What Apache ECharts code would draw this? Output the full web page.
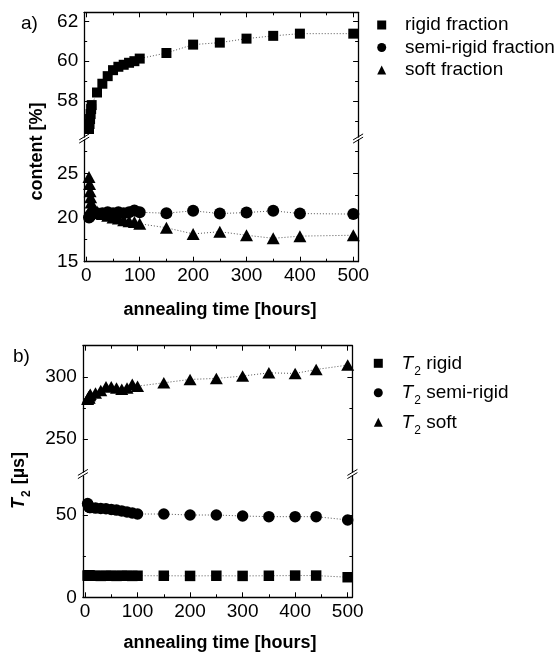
<!DOCTYPE html>
<html><head><meta charset="utf-8">
<script src="https://cdn.jsdelivr.net/npm/echarts@6/dist/echarts.min.js"></script>
<style>html,body{margin:0;padding:0;background:#fff}#c{width:557px;height:654px}</style>
</head><body><div id="c"></div>
<script>
// ---------- data ----------
const timeA = [5,6,7,8,9,10,20,30,40,50,60,70,80,90,100,150,200,250,300,350,400,500];
const rigidFraction = [56.6,56.85,57.1,57.35,57.6,57.8,58.43,58.87,59.25,59.55,59.72,59.82,59.92,60.0,60.13,60.41,60.83,60.93,61.13,61.27,61.38,61.38];
const semiRigidFraction = [20.0,20.1,20.2,20.3,20.3,20.4,20.5,20.5,20.6,20.5,20.6,20.5,20.6,20.8,20.6,20.5,20.77,20.46,20.57,20.77,20.46,20.4];
const softFraction = [24.6,23.8,23.0,22.3,21.7,21.2,20.7,20.4,20.2,20.0,19.9,19.7,19.6,19.5,19.3,18.85,18.15,18.4,18.0,17.65,17.9,18.0];

const timeB = [5,6,7,8,9,10,20,30,40,50,60,70,80,90,100,150,200,250,300,350,400,440,500];
const t2Rigid = [13.2,13.1,13.1,13.2,13.1,13.1,13.1,13.0,13.1,13.1,13.0,13.1,13.1,13.0,13.1,13.1,13.0,13.1,13.0,13.1,13.2,13.2,12.2];
const t2SemiRigid = [57.0,56.0,55.2,54.8,54.6,54.5,54.2,54.0,53.8,53.4,53.0,52.5,51.8,51.2,50.6,50.6,50.0,50.0,49.4,49.0,49.0,49.0,47.0];
const t2Soft = [282,283,284,283,285,286,287,289,292,292,291,290,291,294,292.5,295.2,297.9,298.7,300.6,303.2,302.7,305.9,309.4];

const xTicks = [0,100,200,300,400,500];
const xMinorTicks = [50,150,250,350,450];
const yTicksAUpper = [58,60,62], yMinorAUpper = [57,59,61];
const yTicksALower = [15,20,25], yMinorALower = [17.5,22.5,27.5];
const yTicksBUpper = [250,300], yMinorBUpper = [275];
const yTicksBLower = [0,50], yMinorBLower = [25];

const legendA = ['rigid fraction','semi-rigid fraction','soft fraction'];
const legendB = ['T2 rigid','T2 semi-rigid','T2 soft'];

// ---------- helpers ----------
const FONT = '"Liberation Sans", Arial, sans-serif';
const AX = '#000';
const pairs = (xs, ys) => xs.map((x, i) => [x, ys[i]]);

function axisPair(kind, grid, pos, labels, min, max, major, minor) {
  const base = {type:'value', gridIndex:grid, position:pos, min:min, max:max, splitLine:{show:false}, scale:true};
  return [
    Object.assign({}, base, {
      axisLine:{show:true, onZero:false, lineStyle:{color:AX, width:1.3}},
      axisTick:{show:true, inside:true, length:5, customValues:major, lineStyle:{color:AX, width:1}},
      axisLabel:{show:labels, customValues:major, margin:kind==='x'?5:6, color:'#000', fontSize:19, fontFamily:FONT},
      minorTick:{show:false}
    }),
    Object.assign({}, base, {
      axisLine:{show:false, onZero:false},
      axisTick:{show:true, inside:true, length:3, customValues:minor, lineStyle:{color:AX, width:1}},
      axisLabel:{show:false},
      minorTick:{show:false}
    })
  ];
}

// grid geometry
const gA = {left:84.2, width:273.9};
const gB = {left:82.9, width:269.5};
const grids = [
  {left:gA.left, width:gA.width, top:12.3, height:124.7},
  {left:gA.left, width:gA.width, top:140, height:121.7},
  {left:gB.left, width:gB.width, top:345.7, height:126.3},
  {left:gB.left, width:gB.width, top:476, height:121.3}
].map(g => Object.assign(g, {containLabel:false, outerBoundsMode:'none'}));

const xRange = [-4, 509];
const xAxis = [].concat(
  axisPair('x', 0, 'top', false, xRange[0], xRange[1], xTicks, xMinorTicks),
  axisPair('x', 1, 'bottom', true, xRange[0], xRange[1], xTicks, xMinorTicks),
  axisPair('x', 2, 'top', false, xRange[0], xRange[1], xTicks, xMinorTicks),
  axisPair('x', 3, 'bottom', true, xRange[0], xRange[1], xTicks, xMinorTicks)
);
const yDefs = [
  [0, 56.2, 62.45, yTicksAUpper, yMinorAUpper],
  [1, 15, 28.8, yTicksALower, yMinorALower],
  [2, 223.5, 325, yTicksBUpper, yMinorBUpper],
  [3, 0, 73.7, yTicksBLower, yMinorBLower]
];
let yAxis = [];
yDefs.forEach(d => {
  yAxis = yAxis.concat(
    axisPair('y', d[0], 'left', true, d[1], d[2], d[3], d[4]),
    axisPair('y', d[0], 'right', false, d[1], d[2], d[3], d[4])
  );
});

const lineStyle = {color:'#555', width:1, type:[1,2]};
function ser(name, xi, yi, data, symbol, size) {
  return {type:'line', name:name, xAxisIndex:xi, yAxisIndex:yi, data:data,
    symbol:symbol, symbolSize:size, showSymbol:true, showAllSymbol:true,
    itemStyle:{color:'#000'}, lineStyle:lineStyle, emphasis:{disabled:true}, z:3, clip:false};
}
const series = [
  ser(legendA[0], 0, 0, pairs(timeA, rigidFraction), 'rect', 10),
  ser(legendA[1], 2, 4, pairs(timeA, semiRigidFraction), 'circle', 12),
  ser(legendA[2], 2, 4, pairs(timeA, softFraction), 'triangle', [13,12]),
  ser(legendB[0], 6, 12, pairs(timeB, t2Rigid), 'rect', 10.5),
  ser(legendB[1], 6, 12, pairs(timeB, t2SemiRigid), 'circle', 11.5),
  ser(legendB[2], 4, 8, pairs(timeB, t2Soft), 'triangle', [13,11.5])
];

const icons = ['rect','circle','triangle'];
const legend = [
  {data: legendA.map((n,i)=>({name:n, icon:icons[i]})), orient:'vertical', left:372.2, top:10.5,
   itemWidth:9, itemHeight:9, itemGap:3.5, selectedMode:false,
   textStyle:{fontSize:19, fontFamily:FONT, color:'#000', lineHeight:19, padding:[0,0,0,13.8]}},
  {data: legendB.map((n,i)=>({name:n, icon:icons[i]})), orient:'vertical', left:368.8, top:344.3,
   itemWidth:9, itemHeight:9, itemGap:1.5, selectedMode:false,
   formatter: n => '{i|T}{s|2}{n|' + n.slice(2) + '}',
   textStyle:{fontSize:19, fontFamily:FONT, color:'#000', lineHeight:28, padding:[0,0,0,13.8],
     rich:{
       i:{fontStyle:'italic', fontSize:19, fontFamily:FONT, lineHeight:28},
       s:{fontSize:12, fontFamily:FONT, lineHeight:12, padding:[16,0,0,1]},
       n:{fontSize:19, fontFamily:FONT, lineHeight:28}
     }}}
];

function breakMarks(x, y) {
  return [-1.6, 1.6].map(dy => ({type:'line', z:10,
    shape:{x1:x-5, y1:y+dy+3, x2:x+5, y2:y+dy-3}, style:{stroke:'#000', lineWidth:1}}));
}

const graphic = [].concat(
  breakMarks(gA.left, 138.5), breakMarks(gA.left + gA.width, 138.5),
  breakMarks(gB.left, 474), breakMarks(gB.left + gB.width, 474),
  [
    {type:'text', x:29.5, y:24, style:{text:'a)', fontSize:19, fontFamily:FONT, fill:'#000', align:'center', verticalAlign:'middle'}},
    {type:'text', x:21.5, y:356.5, style:{text:'b)', fontSize:19, fontFamily:FONT, fill:'#000', align:'center', verticalAlign:'middle'}},
    {type:'text', x:220, y:310, style:{text:'annealing time [hours]', fontSize:18, fontWeight:'bold', fontFamily:FONT, fill:'#000', align:'center', verticalAlign:'middle'}},
    {type:'text', x:220, y:643.5, style:{text:'annealing time [hours]', fontSize:18, fontWeight:'bold', fontFamily:FONT, fill:'#000', align:'center', verticalAlign:'middle'}},
    {type:'text', x:37, y:151.5, rotation:Math.PI/2, style:{text:'content [%]', fontSize:18, fontWeight:'bold', fontFamily:FONT, fill:'#000', align:'center', verticalAlign:'middle'}},
    {type:'text', x:19.5, y:480.5, rotation:Math.PI/2, style:{text:'{bi|T}{s|2}{b| [µs]}', fill:'#000', align:'center', verticalAlign:'middle',
      rich:{
        bi:{fontSize:18, fontWeight:'bold', fontStyle:'italic', fontFamily:FONT, lineHeight:26},
        s:{fontSize:12, fontWeight:'bold', fontFamily:FONT, lineHeight:12, padding:[14,1,0,1]},
        b:{fontSize:18, fontWeight:'bold', fontFamily:FONT, lineHeight:26}
      }}}
  ]
);

const chart = echarts.init(document.getElementById('c'), null, {renderer:'canvas'});
chart.setOption({
  animation:false,
  backgroundColor:'#fff',
  grid:grids, xAxis:xAxis, yAxis:yAxis, series:series, legend:legend, graphic:graphic
});
</script></body></html>
